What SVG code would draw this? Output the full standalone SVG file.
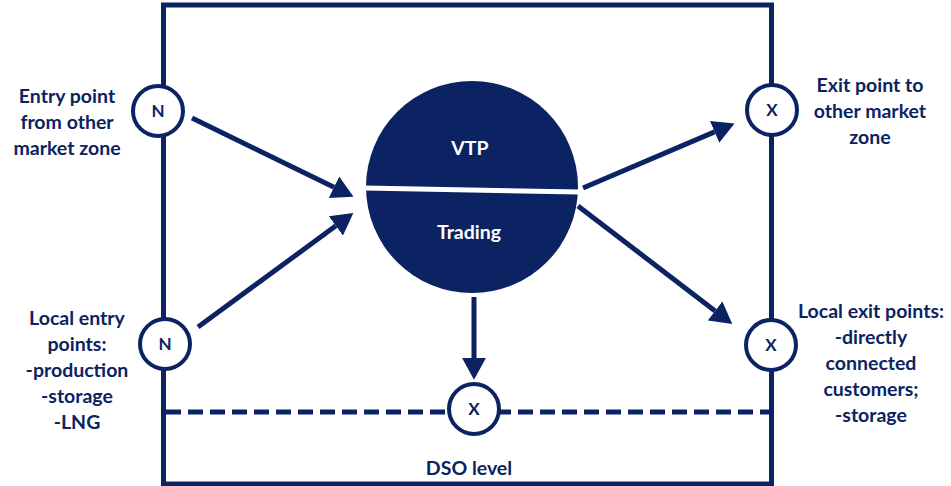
<svg xmlns="http://www.w3.org/2000/svg" width="951" height="486" viewBox="0 0 951 486">
<style>
.frame{fill:none;stroke:#0b2362;stroke-width:5}
.node circle{fill:#fff;stroke:#0b2362;stroke-width:4}
.lbl{font-family:Lato,"Liberation Sans",sans-serif;font-weight:bold;font-size:19.5px;fill:#0b2362;text-anchor:middle}
.sym{font-family:Lato,"Liberation Sans",sans-serif;font-weight:bold;font-size:17px;fill:#0b2362;text-anchor:middle}
.wt{font-family:Lato,"Liberation Sans",sans-serif;font-weight:bold;font-size:19.5px;fill:#fff;text-anchor:middle}
.arr{stroke:#0b2362;stroke-width:5;fill:none;marker-end:url(#ah)}
.dash{stroke:#0b2362;stroke-width:5;fill:none;stroke-dasharray:15 7}
</style>
<defs>
<marker id="ah" markerUnits="userSpaceOnUse" markerWidth="24" markerHeight="26" viewBox="0 -12 22 24" refX="0" refY="0" orient="auto">
<path d="M0,-11 L20,0 L0,11 z" fill="#0b2362"/>
</marker>
</defs>
<rect class="frame" x="163.5" y="5" width="608" height="479"/>
<g id="connectors">
<line class="dash" x1="166" y1="412" x2="769" y2="412"/>
<line class="arr" x1="192" y1="118" x2="334" y2="187.2"/>
<line class="arr" x1="198" y1="327" x2="335.9" y2="225.8"/>
<line class="arr" x1="583" y1="188" x2="714.6" y2="131.9"/>
<line class="arr" x1="578" y1="206" x2="715.1" y2="310.9"/>
<line class="arr" x1="474" y1="297" x2="474" y2="358"/>
</g>
<g id="vtp">
<circle cx="472" cy="187" r="106" fill="#0b2362"/>
<line x1="364" y1="188" x2="580" y2="192" stroke="#fff" stroke-width="5"/>
<text class="wt" x="470" y="155">VTP</text>
<text class="wt" x="469" y="239">Trading</text>
</g>
<g id="entry-other" class="node">
<circle cx="158" cy="111" r="25"/>
<text class="sym" x="158" y="117">N</text>
<text class="lbl" x="67" y="103">Entry point</text>
<text class="lbl" x="67" y="129">from other</text>
<text class="lbl" x="67" y="155">market zone</text>
</g>
<g id="entry-local" class="node">
<circle cx="165" cy="344" r="25"/>
<text class="sym" x="165" y="350">N</text>
<text class="lbl" x="77" y="325">Local entry</text>
<text class="lbl" x="77" y="351">points:</text>
<text class="lbl" x="77" y="377">-production</text>
<text class="lbl" x="77" y="403">-storage</text>
<text class="lbl" x="77" y="429">-LNG</text>
</g>
<g id="exit-other" class="node">
<circle cx="772" cy="110" r="25"/>
<text class="sym" x="772" y="116">X</text>
<text class="lbl" x="870" y="92">Exit point to</text>
<text class="lbl" x="870" y="118">other market</text>
<text class="lbl" x="870" y="144">zone</text>
</g>
<g id="exit-local" class="node">
<circle cx="771" cy="345" r="25"/>
<text class="sym" x="771" y="351">X</text>
<text class="lbl" x="871" y="318">Local exit points:</text>
<text class="lbl" x="871" y="344">-directly</text>
<text class="lbl" x="871" y="370">connected</text>
<text class="lbl" x="871" y="396">customers;</text>
<text class="lbl" x="871" y="422">-storage</text>
</g>
<g id="dso" class="node">
<circle cx="474" cy="409" r="25"/>
<text class="sym" x="474" y="415">X</text>
<text class="lbl" x="469" y="475">DSO level</text>
</g>
</svg>
